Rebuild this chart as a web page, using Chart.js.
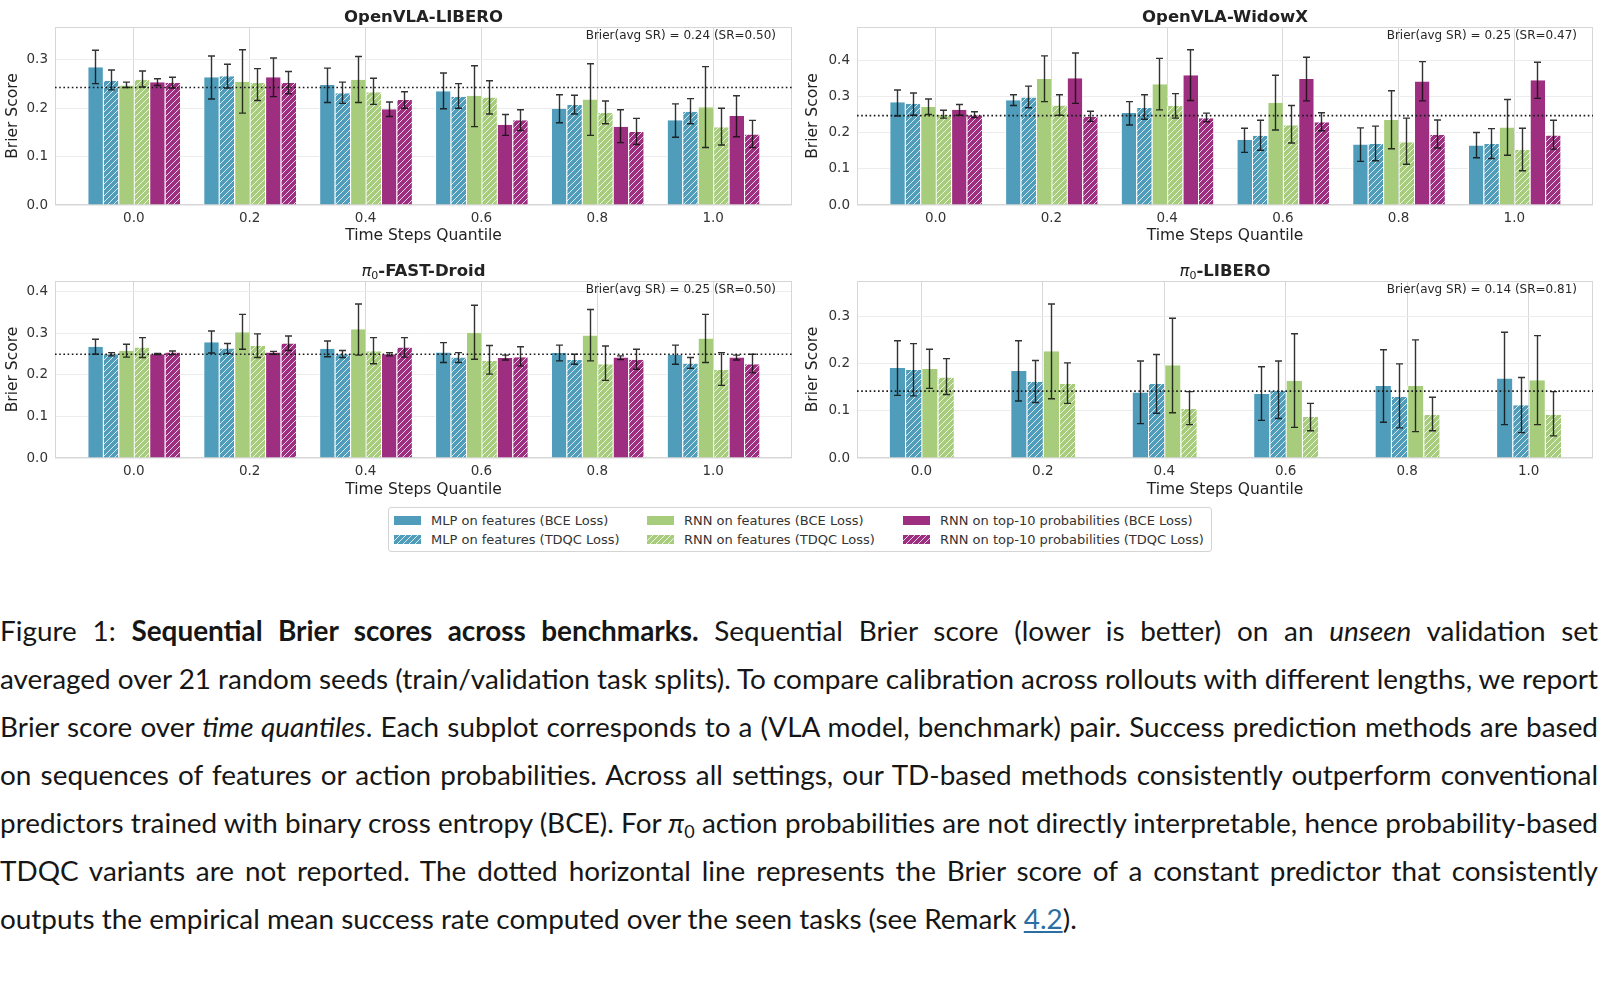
<!DOCTYPE html>
<html>
<head>
<meta charset="utf-8">
<script src="https://cdn.jsdelivr.net/npm/chart.js@4.4.1/dist/chart.umd.min.js"></script>
<style>
  body { margin: 0; background: #fff; width: 1600px; height: 992px; position: relative; overflow: hidden; font-family: 'DejaVu Sans'; }
  canvas { position: absolute; }
  .ttl { position: absolute; transform: translateX(-50%); font: bold 16.5px 'DejaVu Sans'; color: #222; white-space: nowrap; line-height: 20px; }
  .ttl i { font-weight: normal; }
  .ttl sub { font-size: 11px; font-weight: normal; vertical-align: -3px; line-height: 0; }
  #legend { position: absolute; left: 388px; top: 507px; width: 822px; height: 43px; border: 1px solid #d4d4d4; border-radius: 3px; }
  .sw { position: absolute; width: 27px; height: 9px; }
  .lt { position: absolute; font-size: 13px; color: #333; line-height: 16px; white-space: nowrap; }
  #caption { position: absolute; left: 0; top: 606px; width: 1600px; font-family: 'Lato'; font-size: 27.9px; color: #161616; }
  .cap { height: 48px; line-height: 48px; white-space: nowrap; }
  .cap sub { font-size: 18px; line-height: 0; vertical-align: -5px; }
  .cap a { color: #2b6ea3; text-decoration: underline; }
</style>
</head>
<body>
<canvas id="c1" width="800" height="250" style="left:0px;top:0px"></canvas>
<canvas id="c2" width="800" height="250" style="left:800px;top:0px"></canvas>
<canvas id="c3" width="800" height="250" style="left:0px;top:254px"></canvas>
<canvas id="c4" width="800" height="250" style="left:800px;top:254px"></canvas>

<div class="ttl" style="left:423.5px;top:6.5px">OpenVLA-LIBERO</div>
<div class="ttl" style="left:1225px;top:6.5px">OpenVLA-WidowX</div>
<div class="ttl" style="left:423.5px;top:260.5px"><i>π</i><sub>0</sub>-FAST-Droid</div>
<div class="ttl" style="left:1225px;top:260.5px"><i>π</i><sub>0</sub>-LIBERO</div>

<div id="legend"></div>

<div id="caption">
<div class="cap"><span>Figure 1: <b>Sequential Brier scores across benchmarks.</b> Sequential Brier score (lower is better) on an <i>unseen</i> validation set</span></div>
<div class="cap"><span>averaged over 21 random seeds (train/validation task splits). To compare calibration across rollouts with different lengths, we report</span></div>
<div class="cap"><span>Brier score over <i>time quantiles</i>. Each subplot corresponds to a (VLA model, benchmark) pair. Success prediction methods are based</span></div>
<div class="cap"><span>on sequences of features or action probabilities. Across all settings, our TD-based methods consistently outperform conventional</span></div>
<div class="cap"><span>predictors trained with binary cross entropy (BCE). For <i>π</i><sub>0</sub> action probabilities are not directly interpretable, hence probability-based</span></div>
<div class="cap"><span>TDQC variants are not reported. The dotted horizontal line represents the Brier score of a constant predictor that consistently</span></div>
<div class="cap"><span>outputs the empirical mean success rate computed over the seen tasks (see Remark <a>4.2</a>).</span></div>
</div>

<script>
const xLabels = ['0.0', '0.2', '0.4', '0.6', '0.8', '1.0'];
const xPos = [0, 1, 2, 3, 4, 5];
const seriesNames = ['MLP on features (BCE Loss)', 'MLP on features (TDQC Loss)',
  'RNN on features (BCE Loss)', 'RNN on features (TDQC Loss)',
  'RNN on top-10 probabilities (BCE Loss)', 'RNN on top-10 probabilities (TDQC Loss)'];
const seriesColors = ['#4f9cbb', '#4f9cbb', '#a7cd7c', '#a7cd7c', '#9e2f80', '#9e2f80'];
const seriesHatched = [false, true, false, true, false, true];

// rows follow seriesNames, columns follow xLabels

// OpenVLA-LIBERO
const liberoMean = [
  [0.285, 0.264, 0.248, 0.235, 0.199, 0.175],
  [0.257, 0.266, 0.231, 0.224, 0.207, 0.193],
  [0.247, 0.255, 0.259, 0.226, 0.218, 0.202],
  [0.259, 0.252, 0.233, 0.222, 0.190, 0.161],
  [0.254, 0.264, 0.198, 0.166, 0.162, 0.184],
  [0.253, 0.252, 0.217, 0.175, 0.151, 0.146]];
const liberoLow = [
  [0.251, 0.219, 0.212, 0.199, 0.170, 0.140],
  [0.238, 0.242, 0.210, 0.200, 0.188, 0.168],
  [0.243, 0.190, 0.212, 0.162, 0.144, 0.119],
  [0.244, 0.216, 0.208, 0.188, 0.168, 0.124],
  [0.247, 0.224, 0.183, 0.144, 0.129, 0.141],
  [0.242, 0.230, 0.200, 0.154, 0.125, 0.119]];
const liberoHigh = [
  [0.320, 0.308, 0.283, 0.273, 0.228, 0.209],
  [0.279, 0.291, 0.254, 0.251, 0.227, 0.220],
  [0.254, 0.321, 0.307, 0.288, 0.292, 0.286],
  [0.277, 0.282, 0.262, 0.257, 0.215, 0.200],
  [0.261, 0.304, 0.213, 0.187, 0.197, 0.226],
  [0.264, 0.276, 0.234, 0.197, 0.179, 0.175]];
const liberoBaseline = 0.243;
const liberoNote = 'Brier(avg SR) = 0.24 (SR=0.50)';
const liberoTicks = [0, 0.1, 0.2, 0.3];

// OpenVLA-WidowX
const widowMean = [
  [0.285, 0.291, 0.255, 0.181, 0.168, 0.165],
  [0.281, 0.298, 0.269, 0.192, 0.169, 0.169],
  [0.272, 0.350, 0.335, 0.284, 0.236, 0.215],
  [0.250, 0.276, 0.275, 0.221, 0.174, 0.153],
  [0.264, 0.352, 0.360, 0.350, 0.343, 0.346],
  [0.249, 0.245, 0.241, 0.230, 0.195, 0.193]];
const widowLow = [
  [0.247, 0.276, 0.222, 0.146, 0.121, 0.131],
  [0.249, 0.270, 0.238, 0.152, 0.123, 0.129],
  [0.251, 0.287, 0.264, 0.208, 0.156, 0.138],
  [0.241, 0.249, 0.241, 0.172, 0.113, 0.095],
  [0.249, 0.282, 0.290, 0.289, 0.289, 0.296],
  [0.243, 0.232, 0.231, 0.206, 0.158, 0.155]];
const widowHigh = [
  [0.319, 0.306, 0.287, 0.213, 0.214, 0.201],
  [0.311, 0.330, 0.306, 0.235, 0.219, 0.212],
  [0.294, 0.414, 0.407, 0.360, 0.317, 0.293],
  [0.263, 0.306, 0.309, 0.276, 0.241, 0.213],
  [0.279, 0.422, 0.431, 0.410, 0.398, 0.396],
  [0.259, 0.260, 0.255, 0.256, 0.236, 0.235]];
const widowBaseline = 0.248;
const widowNote = 'Brier(avg SR) = 0.25 (SR=0.47)';
const widowTicks = [0, 0.1, 0.2, 0.3, 0.4];

// pi0-FAST-Droid
const droidMean = [
  [0.268, 0.279, 0.263, 0.254, 0.253, 0.249],
  [0.250, 0.264, 0.250, 0.242, 0.236, 0.228],
  [0.258, 0.303, 0.310, 0.302, 0.295, 0.288],
  [0.266, 0.270, 0.257, 0.234, 0.226, 0.212],
  [0.250, 0.254, 0.250, 0.241, 0.242, 0.242],
  [0.254, 0.276, 0.266, 0.243, 0.237, 0.226]];
const droidLow = [
  [0.250, 0.253, 0.244, 0.230, 0.234, 0.226],
  [0.246, 0.252, 0.242, 0.230, 0.226, 0.216],
  [0.243, 0.262, 0.248, 0.238, 0.234, 0.230],
  [0.242, 0.242, 0.227, 0.202, 0.187, 0.175],
  [0.249, 0.250, 0.246, 0.236, 0.237, 0.236],
  [0.249, 0.259, 0.243, 0.222, 0.214, 0.205]];
const droidHigh = [
  [0.286, 0.306, 0.282, 0.278, 0.272, 0.272],
  [0.254, 0.276, 0.259, 0.254, 0.250, 0.242],
  [0.274, 0.346, 0.371, 0.368, 0.358, 0.346],
  [0.290, 0.299, 0.290, 0.271, 0.270, 0.254],
  [0.252, 0.257, 0.254, 0.248, 0.246, 0.248],
  [0.258, 0.294, 0.290, 0.268, 0.262, 0.250]];
const droidBaseline = 0.25;
const droidNote = 'Brier(avg SR) = 0.25 (SR=0.50)';
const droidTicks = [0, 0.1, 0.2, 0.3, 0.4];

// pi0-LIBERO (no probability-based variants)
const pi0Mean = [
  [0.191, 0.185, 0.139, 0.136, 0.153, 0.169],
  [0.187, 0.162, 0.157, 0.143, 0.130, 0.112],
  [0.189, 0.227, 0.197, 0.164, 0.153, 0.165],
  [0.171, 0.157, 0.104, 0.087, 0.092, 0.092]];
const pi0Low = [
  [0.133, 0.121, 0.073, 0.080, 0.076, 0.071],
  [0.132, 0.118, 0.095, 0.084, 0.064, 0.054],
  [0.148, 0.126, 0.096, 0.065, 0.056, 0.071],
  [0.135, 0.116, 0.071, 0.058, 0.058, 0.047]];
const pi0High = [
  [0.249, 0.249, 0.206, 0.194, 0.230, 0.267],
  [0.243, 0.207, 0.220, 0.206, 0.200, 0.171],
  [0.231, 0.327, 0.297, 0.264, 0.251, 0.260],
  [0.211, 0.202, 0.141, 0.116, 0.129, 0.141]];
const pi0Baseline = 0.142;
const pi0Note = 'Brier(avg SR) = 0.14 (SR=0.81)';
const pi0Ticks = [0, 0.1, 0.2, 0.3];

Chart.defaults.font.family = 'DejaVu Sans';

function makeTile(color, hatched) {
  const n = 6;
  const c = document.createElement('canvas');
  c.width = n; c.height = n;
  const g = c.getContext('2d');
  g.fillStyle = color;
  g.fillRect(0, 0, n, n);
  if (hatched) {
    g.strokeStyle = 'rgba(255,255,255,0.8)';
    g.lineWidth = 1;
    g.beginPath();
    g.moveTo(0, n); g.lineTo(n, 0);
    g.moveTo(-1, 1); g.lineTo(1, -1);
    g.moveTo(n - 1, n + 1); g.lineTo(n + 1, n - 1);
    g.stroke();
  }
  return c;
}
const tiles = seriesColors.map((c, i) => makeTile(c, seriesHatched[i]));
const fills = tiles.map((t, i) => seriesHatched[i] ? t.getContext('2d').createPattern(t, 'repeat') : seriesColors[i]);

// error bars, frame, dotted baseline, note
const extras = {
  id: 'extras',
  beforeDatasetsDraw(chart) {
    const { ctx, chartArea: a } = chart;
    ctx.save();
    ctx.strokeStyle = '#d6d6d6';
    ctx.lineWidth = 1;
    ctx.strokeRect(a.left + 0.5, a.top + 0.5, a.right - a.left - 1, a.bottom - a.top - 1);
    ctx.restore();
  },
  afterDatasetsDraw(chart, args, opts) {
    const { ctx, chartArea: a, scales: { y } } = chart;
    ctx.save();
    ctx.strokeStyle = 'rgba(15,15,15,0.85)';
    ctx.lineWidth = 1.4;
    chart.data.datasets.forEach((ds, di) => {
      chart.getDatasetMeta(di).data.forEach((bar, i) => {
        const lo = y.getPixelForValue(ds.errLow[i]);
        const hi = y.getPixelForValue(ds.errHigh[i]);
        const cx = Math.round(bar.x) + 0.5;
        ctx.beginPath();
        ctx.moveTo(cx, lo); ctx.lineTo(cx, hi);
        ctx.moveTo(cx - 3.5, lo); ctx.lineTo(cx + 3.5, lo);
        ctx.moveTo(cx - 3.5, hi); ctx.lineTo(cx + 3.5, hi);
        ctx.stroke();
      });
    });
    const by = y.getPixelForValue(opts.baseline);
    ctx.setLineDash([1.6, 2.6]);
    ctx.strokeStyle = '#1a1a1a';
    ctx.lineWidth = 1.6;
    ctx.beginPath();
    ctx.moveTo(a.left, by); ctx.lineTo(a.right, by);
    ctx.stroke();
    ctx.setLineDash([]);
    ctx.font = '12px "DejaVu Sans"';
    ctx.fillStyle = '#262626';
    ctx.textAlign = 'right';
    ctx.textBaseline = 'middle';
    ctx.fillText(opts.note, a.right - 16, a.top + 9);
    ctx.restore();
  }
};

const panels = [
  { id: 'c1', mean: liberoMean, low: liberoLow, high: liberoHigh, baseline: liberoBaseline, note: liberoNote, yTicks: liberoTicks, yMax: 0.368, xMin: -0.68, xMax: 5.68, cat: 0.8, yW: 55, padR: 8, xH: 45 },
  { id: 'c2', mean: widowMean, low: widowLow, high: widowHigh, baseline: widowBaseline, note: widowNote, yTicks: widowTicks, yMax: 0.494, xMin: -0.68, xMax: 5.68, cat: 0.8, yW: 57, padR: 7, xH: 45 },
  { id: 'c3', mean: droidMean, low: droidLow, high: droidHigh, baseline: droidBaseline, note: droidNote, yTicks: droidTicks, yMax: 0.4265, xMin: -0.68, xMax: 5.68, cat: 0.8, yW: 55, padR: 8, xH: 46 },
  { id: 'c4', mean: pi0Mean, low: pi0Low, high: pi0High, baseline: pi0Baseline, note: pi0Note, yTicks: pi0Ticks, yMax: 0.376, xMin: -0.53, xMax: 5.53, cat: 0.535, yW: 57, padR: 7, xH: 46 }
];

panels.forEach(p => {
  const datasets = p.mean.map((vals, s) => ({
    label: seriesNames[s],
    data: xPos.map((x, i) => ({ x: x, y: vals[i] })),
    errLow: p.low[s],
    errHigh: p.high[s],
    backgroundColor: fills[s],
    borderColor: '#ffffff',
    borderWidth: { left: 1, right: 0, top: 0, bottom: 0 },
    categoryPercentage: p.cat,
    barPercentage: 1
  }));

  new Chart(document.getElementById(p.id), {
    type: 'bar',
    data: { datasets },
    options: {
      responsive: false,
      animation: false,
      layout: { padding: { top: 27, right: p.padR, left: 0, bottom: 0 } },
      plugins: {
        legend: { display: false },
        tooltip: { enabled: false },
        extras: { baseline: p.baseline, note: p.note }
      },
      scales: {
        x: {
          type: 'linear', min: p.xMin, max: p.xMax, offset: false,
          grid: { offset: false, color: '#d9d9d9', drawTicks: false },
          border: { display: false },
          afterBuildTicks: a => { a.ticks = xPos.map(v => ({ value: v })); },
          afterFit: a => { a.height = p.xH; },
          ticks: { callback: (v, i) => xLabels[i], font: { size: 13.5 }, color: '#333', padding: 5.5, maxRotation: 0, autoSkip: false },
          title: { display: true, text: 'Time Steps Quantile', font: { size: 15.5 }, color: '#222', padding: { top: 0, bottom: 4.5 } }
        },
        y: {
          min: 0, max: p.yMax,
          grid: { color: '#ececec', drawTicks: false },
          border: { display: false },
          afterBuildTicks: a => { a.ticks = p.yTicks.map(v => ({ value: v })); },
          afterFit: a => { a.width = p.yW; },
          ticks: { callback: v => v.toFixed(1), font: { size: 13.5 }, color: '#333', padding: 7 },
          title: { display: true, text: 'Brier Score', font: { size: 15.5 }, color: '#222', padding: { top: 3.5, bottom: 0 } }
        }
      }
    },
    plugins: [extras]
  });
});

// legend (html)
const legend = document.getElementById('legend');
const colX = [5, 258, 514];
const textX = [42, 295, 551];
const rowY = [13, 32];
seriesNames.forEach((name, s) => {
  const col = Math.floor(s / 2), row = s % 2;
  const sw = document.createElement('div');
  sw.className = 'sw';
  sw.style.left = colX[col] + 'px';
  sw.style.top = (rowY[row] - 5) + 'px';
  sw.style.background = 'url(' + tiles[s].toDataURL() + ')';
  legend.appendChild(sw);
  const t = document.createElement('div');
  t.className = 'lt';
  t.style.left = textX[col] + 'px';
  t.style.top = (rowY[row] - 8) + 'px';
  t.textContent = name;
  legend.appendChild(t);
});

// justify caption lines
function justify() {
  const lines = document.querySelectorAll('.cap');
  lines.forEach((el, i) => {
    if (i === lines.length - 1) return;
    el.style.wordSpacing = '0px';
    const span = el.firstElementChild;
    const w = span.getBoundingClientRect().width;
    const gaps = (span.textContent.match(/ /g) || []).length;
    el.style.wordSpacing = ((1598 - w) / gaps) + 'px';
  });
}
justify();
document.fonts.ready.then(justify);
</script>
</body>
</html>
